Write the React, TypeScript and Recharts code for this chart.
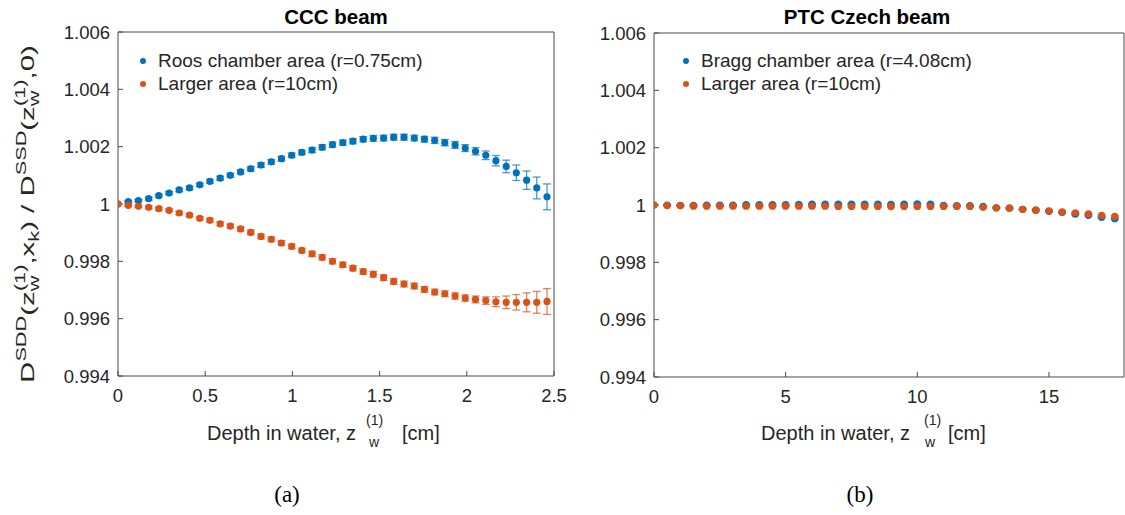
import React from "react";
import { ScatterChart, Scatter, XAxis, YAxis, ErrorBar, Legend } from "recharts";

// ---------- data ----------
const cccDepth = [0, 0.059, 0.117, 0.176, 0.234, 0.293, 0.351, 0.41, 0.469, 0.527, 0.586, 0.644, 0.703, 0.761, 0.82, 0.879, 0.937, 0.996, 1.054, 1.113, 1.171, 1.23, 1.289, 1.347, 1.406, 1.464, 1.523, 1.581, 1.64, 1.699, 1.757, 1.816, 1.874, 1.933, 1.991, 2.05, 2.109, 2.167, 2.226, 2.284, 2.343, 2.401, 2.46];
const cccRoos = [1.0, 1.00008, 1.000115, 1.000185, 1.00029, 1.00038, 1.00049, 1.00056, 1.00067, 1.00079, 1.0009, 1.001, 1.00112, 1.00123, 1.00136, 1.00147, 1.00158, 1.0017, 1.0018, 1.00188, 1.00198, 1.00207, 1.00214, 1.00219, 1.00226, 1.00229, 1.0023, 1.00233, 1.00233, 1.0023, 1.00226, 1.00222, 1.00214, 1.00206, 1.00195, 1.00184, 1.0017, 1.00151, 1.00131, 1.00109, 1.00083, 1.00056, 1.00025];
const cccRoosErr = [0, 0.00004, 0.00004, 0.00005, 0.00005, 0.00005, 0.00006, 0.00006, 0.00006, 0.00007, 0.00007, 0.00007, 0.00007, 0.00008, 0.00008, 0.00008, 0.00008, 0.00008, 0.00008, 0.00009, 0.00009, 0.00009, 0.00009, 0.00009, 0.00009, 0.0001, 0.0001, 0.0001, 0.0001, 0.0001, 0.0001, 0.00011, 0.00011, 0.00012, 0.00012, 0.00013, 0.00015, 0.00018, 0.00022, 0.00027, 0.00032, 0.00038, 0.00045];
const cccLarger = [1.0, 0.999953, 0.99992, 0.999884, 0.999837, 0.99978, 0.999686, 0.99961, 0.9995, 0.99943, 0.99931, 0.99923, 0.99913, 0.99901, 0.99887, 0.99877, 0.99864, 0.99852, 0.99838, 0.99826, 0.99814, 0.998, 0.99788, 0.99776, 0.99764, 0.99755, 0.99743, 0.9973, 0.99721, 0.99714, 0.99702, 0.99693, 0.99687, 0.99679, 0.99672, 0.99667, 0.99663, 0.99659, 0.99657, 0.99657, 0.99657, 0.99657, 0.9966];
const cccLargerErr = [0, 0.00004, 0.00004, 0.00005, 0.00005, 0.00005, 0.00006, 0.00006, 0.00006, 0.00007, 0.00007, 0.00007, 0.00007, 0.00008, 0.00008, 0.00008, 0.00008, 0.00008, 0.00008, 0.00009, 0.00009, 0.00009, 0.00009, 0.00009, 0.00009, 0.0001, 0.0001, 0.0001, 0.0001, 0.0001, 0.0001, 0.0001, 0.0001, 0.00011, 0.00011, 0.00012, 0.00013, 0.00017, 0.00022, 0.00027, 0.00033, 0.00038, 0.00045];

const ptcDepth = [0, 0.5, 1, 1.5, 2, 2.5, 3, 3.5, 4, 4.5, 5, 5.5, 6, 6.5, 7, 7.5, 8, 8.5, 9, 9.5, 10, 10.5, 11, 11.5, 12, 12.5, 13, 13.5, 14, 14.5, 15, 15.5, 16, 16.5, 17, 17.5];
const ptcBragg = [1.0, 1.0, 0.99999, 0.99999, 1.0, 1.0, 1.0, 1.00001, 1.00001, 1.00001, 1.00001, 1.00002, 1.00003, 1.00003, 1.00003, 1.00003, 1.00003, 1.00003, 1.00002, 1.00003, 1.00004, 1.00003, 0.99999, 0.99998, 0.99998, 0.99995, 0.9999, 0.99989, 0.99985, 0.99982, 0.99978, 0.99974, 0.99968, 0.99964, 0.99957, 0.99952];
const ptcBraggErr = [0, 0.00002, 0.00002, 0.00002, 0.00002, 0.00002, 0.00002, 0.00002, 0.00002, 0.00002, 0.00002, 0.00002, 0.00002, 0.00002, 0.00002, 0.00002, 0.00002, 0.00002, 0.00002, 0.00002, 0.00002, 0.00002, 0.00002, 0.00002, 0.00002, 0.00002, 0.00002, 0.00002, 0.00002, 0.00003, 0.00003, 0.00003, 0.00003, 0.00003, 0.00003, 0.00003];
const ptcLarger = [1.0, 0.99998, 0.99997, 0.99996, 0.99996, 0.99996, 0.99996, 0.99996, 0.99996, 0.99996, 0.99996, 0.99996, 0.99996, 0.99996, 0.99995, 0.99995, 0.99995, 0.99995, 0.99995, 0.99995, 0.99995, 0.99995, 0.99995, 0.99995, 0.99995, 0.99992, 0.9999, 0.99989, 0.99985, 0.99982, 0.9998, 0.99976, 0.99973, 0.99969, 0.99964, 0.9996];
const ptcLargerErr = [0, 0.00002, 0.00002, 0.00002, 0.00002, 0.00002, 0.00002, 0.00002, 0.00002, 0.00002, 0.00002, 0.00002, 0.00002, 0.00002, 0.00002, 0.00002, 0.00002, 0.00002, 0.00002, 0.00002, 0.00002, 0.00002, 0.00002, 0.00002, 0.00002, 0.00002, 0.00002, 0.00002, 0.00002, 0.00003, 0.00003, 0.00003, 0.00003, 0.00003, 0.00003, 0.00003];

const yTicks = [0.994, 0.996, 0.998, 1, 1.002, 1.004, 1.006];
const cccXTicks = [0, 0.5, 1, 1.5, 2, 2.5];
const ptcXTicks = [0, 5, 10, 15];

const cccNames = ["Roos chamber area (r=0.75cm)", "Larger area (r=10cm)"];
const ptcNames = ["Bragg chamber area (r=4.08cm)", "Larger area (r=10cm)"];

const BLUE = "#0072BD";
const ORANGE = "#D95319";
const FONT = "'Liberation Sans', Arial, Helvetica, sans-serif";
const AXIS = "#4a4a4a";
const TXT = "#262626";

const build = (xs: number[], ys: number[], es: number[]) =>
  xs.map((x, i) => ({ x, y: ys[i], err: es[i] }));

const dot = (color: string) => (p: any) =>
  <circle cx={p.cx} cy={p.cy} r={3.6} fill={color} />;

const fmtY = (v: number) => (Math.abs(v - 1) < 1e-9 ? "1" : v.toFixed(3));

function LegendBox(props: any) {
  const items = props.payload || [];
  return (
    <div style={{ fontFamily: FONT, fontSize: 19, color: TXT }}>
      {items.map((it: any, i: number) => (
        <div key={i} style={{ display: "flex", alignItems: "center", height: 23, whiteSpace: "nowrap" }}>
          <svg width={8} height={8} style={{ marginRight: 11 }}>
            <circle cx={4} cy={4} r={3} fill={it.color} />
          </svg>
          <span>{it.value}</span>
        </div>
      ))}
    </div>
  );
}

type PanelProps = {
  width: number;
  height: number;
  margin: any;
  yAxisWidth: number;
  xAxisHeight: number;
  xDomain: [number, number];
  xTicks: number[];
  s1: any[];
  s2: any[];
  names: string[];
  legendPos: { left: number; top: number };
};

function Panel(p: PanelProps) {
  const axisCommon = { stroke: AXIS, strokeWidth: 1 };
  return (
    <ScatterChart width={p.width} height={p.height} margin={p.margin}>
      <XAxis
        xAxisId="b"
        type="number"
        dataKey="x"
        domain={p.xDomain}
        ticks={p.xTicks}
        allowDataOverflow
        orientation="bottom"
        height={p.xAxisHeight}
        tickSize={-5}
        tickMargin={18}
        axisLine={axisCommon}
        tickLine={axisCommon}
        tick={{ fill: TXT, fontSize: 18.5, fontFamily: FONT }}
        interval={0}
      />
      <XAxis
        xAxisId="t"
        type="number"
        domain={p.xDomain}
        ticks={p.xTicks}
        allowDataOverflow
        orientation="top"
        height={2}
        tickSize={-5}
        axisLine={axisCommon}
        tickLine={axisCommon}
        tick={false}
        interval={0}
      />
      <YAxis
        yAxisId="l"
        type="number"
        dataKey="y"
        domain={[0.994, 1.006]}
        ticks={yTicks}
        allowDataOverflow
        orientation="left"
        width={p.yAxisWidth}
        tickSize={-5}
        tickMargin={13}
        axisLine={axisCommon}
        tickLine={axisCommon}
        tickFormatter={fmtY}
        tick={{ fill: TXT, fontSize: 18.5, fontFamily: FONT }}
        interval={0}
      />
      <YAxis
        yAxisId="r"
        type="number"
        domain={[0.994, 1.006]}
        ticks={yTicks}
        allowDataOverflow
        orientation="right"
        width={1}
        tickSize={-5}
        axisLine={axisCommon}
        tickLine={axisCommon}
        tick={false}
        interval={0}
      />
      <Legend
        verticalAlign="middle"
        align="center"
        layout="vertical"
        itemSorter={(it: any) => p.names.indexOf(it.value)}
        content={<LegendBox />}
        wrapperStyle={{ position: "absolute", left: p.legendPos.left, top: p.legendPos.top, width: "auto" }}
      />
      <Scatter
        name={p.names[0]}
        data={p.s1}
        xAxisId="b"
        yAxisId="l"
        fill={BLUE}
        legendType="circle"
        shape={dot(BLUE)}
        isAnimationActive={false}
      >
        <ErrorBar dataKey="err" direction="y" width={4} stroke={BLUE} strokeWidth={1.3} strokeOpacity={0.7} isAnimationActive={false} />
      </Scatter>
      <Scatter
        name={p.names[1]}
        data={p.s2}
        xAxisId="b"
        yAxisId="l"
        fill={ORANGE}
        legendType="circle"
        shape={dot(ORANGE)}
        isAnimationActive={false}
      >
        <ErrorBar dataKey="err" direction="y" width={4} stroke={ORANGE} strokeWidth={1.3} strokeOpacity={0.7} isAnimationActive={false} />
      </Scatter>
    </ScatterChart>
  );
}

function YLabel() {
  const b = 19;
  const s = 14;
  return (
    <g transform="translate(34, 214) rotate(-90) scale(1.55, 1)">
      <text x={0} y={0} textAnchor="middle" fontFamily={FONT} fontSize={b} fill={TXT}>
        <tspan>D</tspan>
        <tspan fontSize={s} dy={-8}>SDD</tspan>
        <tspan dy={8}>(z</tspan>
        <tspan fontSize={s} dy={5}>w</tspan>
        <tspan fontSize={s} dx={-10} dy={-14}>(1)</tspan>
        <tspan dy={9}>,x</tspan>
        <tspan fontSize={s} dy={5}>k</tspan>
        <tspan dy={-5}>) / D</tspan>
        <tspan fontSize={s} dy={-8}>SSD</tspan>
        <tspan dy={8}>(z</tspan>
        <tspan fontSize={s} dy={5}>w</tspan>
        <tspan fontSize={s} dx={-10} dy={-14}>(1)</tspan>
        <tspan dy={9}>,0)</tspan>
      </text>
    </g>
  );
}

function XLabel(props: { zEnd: number; supX: number; subX: number; cmX: number }) {
  return (
    <g fontFamily={FONT} fill={TXT}>
      <text x={props.zEnd} y={440} textAnchor="end" fontSize={20}>Depth in water, z</text>
      <text x={props.supX} y={425} fontSize={14}>(1)</text>
      <text x={props.subX} y={447} fontSize={14}>w</text>
      <text x={props.cmX} y={440} fontSize={20}>[cm]</text>
    </g>
  );
}

export default function App() {
  const cccS1 = build(cccDepth, cccRoos, cccRoosErr);
  const cccS2 = build(cccDepth, cccLarger, cccLargerErr);
  const ptcS1 = build(ptcDepth, ptcBragg, ptcBraggErr);
  const ptcS2 = build(ptcDepth, ptcLarger, ptcLargerErr);
  return (
    <div style={{ position: "absolute", left: 0, top: 0, width: 1125, height: 515, background: "#fff", overflow: "hidden" }}>
      <div style={{ position: "absolute", left: 0, top: 0 }}>
        <Panel
          width={570}
          height={430}
          margin={{ top: 30, right: 15, bottom: 0, left: 0 }}
          yAxisWidth={118}
          xAxisHeight={54}
          xDomain={[0, 2.5]}
          xTicks={cccXTicks}
          s1={cccS1}
          s2={cccS2}
          names={cccNames}
          legendPos={{ left: 139, top: 49 }}
        />
      </div>
      <div style={{ position: "absolute", left: 570, top: 0 }}>
        <Panel
          width={555}
          height={430}
          margin={{ top: 31, right: 0, bottom: 0, left: 0 }}
          yAxisWidth={84}
          xAxisHeight={53}
          xDomain={[0, 17.85]}
          xTicks={ptcXTicks}
          s1={ptcS1}
          s2={ptcS2}
          names={ptcNames}
          legendPos={{ left: 112, top: 49 }}
        />
      </div>
      <svg width={1125} height={515} style={{ position: "absolute", left: 0, top: 0, pointerEvents: "none" }}>
        <text x={336} y={24} textAnchor="middle" fontFamily={FONT} fontSize={20.5} fontWeight="bold" fill="#000">CCC beam</text>
        <text x={867} y={24} textAnchor="middle" fontFamily={FONT} fontSize={20.5} fontWeight="bold" fill="#000">PTC Czech beam</text>
        <YLabel />
        <XLabel zEnd={356} supX={366} subX={369} cmX={402} />
        <XLabel zEnd={910} supX={924} subX={925} cmX={948} />
        <text x={287} y={502} textAnchor="middle" fontFamily="'Liberation Serif', 'DejaVu Serif', serif" fontSize={23} fill="#000">(a)</text>
        <text x={860} y={502} textAnchor="middle" fontFamily="'Liberation Serif', 'DejaVu Serif', serif" fontSize={23} fill="#000">(b)</text>
      </svg>
    </div>
  );
}
